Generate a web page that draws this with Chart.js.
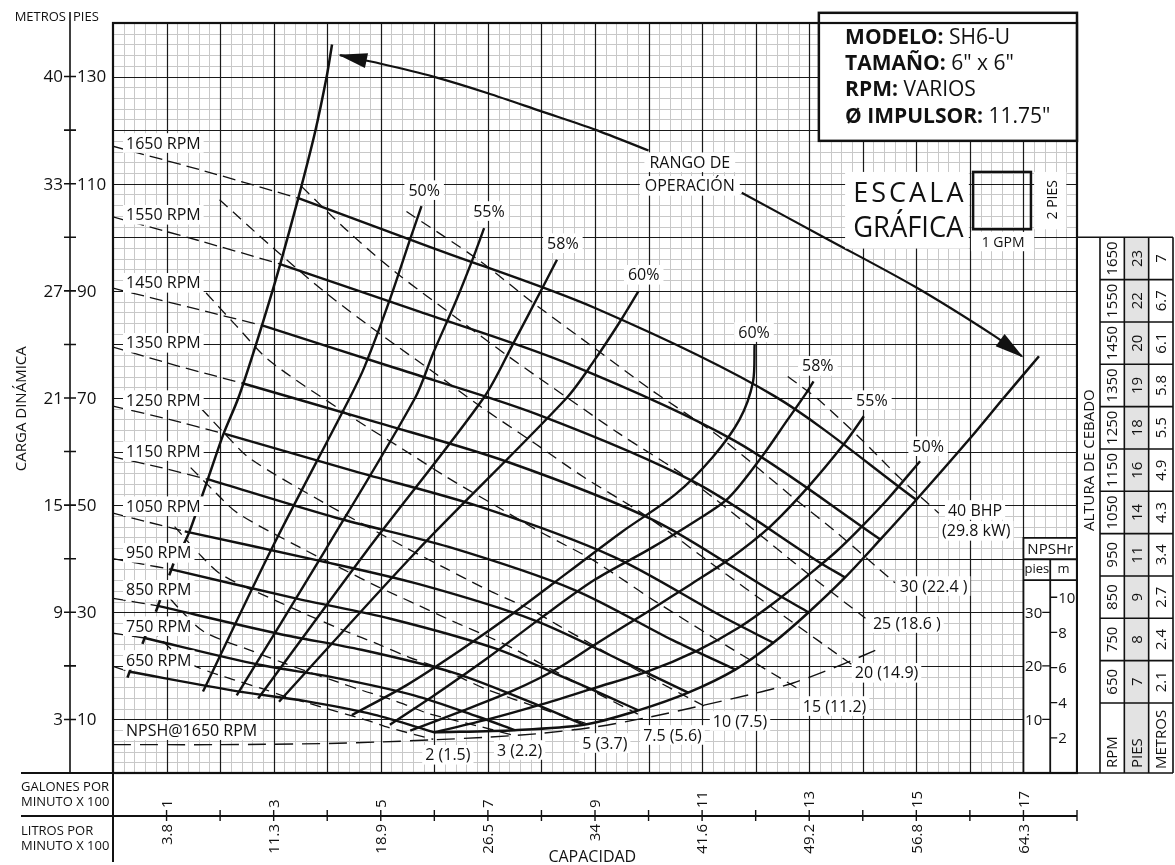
<!DOCTYPE html>
<html>
<head>
<meta charset="utf-8">
<script src="https://cdn.jsdelivr.net/npm/chart.js@4.4.1/dist/chart.umd.min.js"></script>
<style>
  html, body { margin: 0; padding: 0; background: #fff; }
  #wrap { width: 1175px; height: 865px; position: relative; }
</style>
</head>
<body>
<div id="wrap"><canvas id="curve"></canvas></div>
<script>
// capacity in hundreds of GPM (x), total head in feet (y)

// head curves: dashed part at low flow, solid part inside the operating range
const rpm1650Dash = [[0,117],[1.7,112.4],[3.46,107.3]];
const rpm1650 = [[3.46,107.3],[6,97.9],[9,86.8],[12.36,70.3],[15,51]];
const rpm1550Dash = [[0,103.8],[1.6,99.4],[3.12,95.0]];
const rpm1550 = [[3.12,95.0],[5.64,86.4],[8.45,76.6],[11.61,62.0],[14.33,43.6]];
const rpm1450Dash = [[0,90.5],[1.4,87.0],[2.80,83.5]];
const rpm1450 = [[2.80,83.5],[5.27,75.6],[7.91,67.0],[10.86,54.3],[13.18,39.4],[13.67,36.5]];
const rpm1350Dash = [[0,79.5],[1.2,76.0],[2.40,72.8]];
const rpm1350 = [[2.40,72.8],[4.91,65.5],[7.36,58.1],[10.11,47.1],[12.27,34.1],[12.99,30.0]];
const rpm1250Dash = [[0,68.5],[1.05,66.0],[2.09,63.3]];
const rpm1250 = [[2.09,63.3],[4.55,56.2],[6.82,49.8],[9.36,40.3],[11.36,29.3],[12.33,24.3]];
const rpm1150Dash = [[0,59.0],[0.9,57.0],[1.78,54.8]];
const rpm1150 = [[1.78,54.8],[4.18,47.6],[6.27,42.2],[8.61,34.2],[10.45,24.8],[11.62,19.3]];
const rpm1050Dash = [[0,48.5],[0.67,46.8],[1.34,45.1]];
const rpm1050 = [[1.34,45.1],[3.82,39.7],[5.73,35.2],[7.87,28.5],[9.55,20.7],[10.74,15.0]];
const rpm950Dash = [[0,40.0],[0.55,39.0],[1.09,38.0]];
const rpm950 = [[1.09,38.0],[3.45,32.5],[5.18,28.8],[7.12,23.3],[8.64,16.9],[9.81,11.7]];
const rpm850Dash = [[0,32.6],[0.84,31.2]];
const rpm850 = [[0.84,31.2],[3.09,26.0],[4.64,23.0],[6.37,18.7],[7.73,13.5],[8.79,9.0]];
const rpm750Dash = [[0,26.1],[0.59,25.2]];
const rpm750 = [[0.59,25.2],[2.73,20.2],[4.09,17.9],[5.62,14.5],[6.82,10.5],[7.5,8.0]];
const rpm650Dash = [[0,19.9],[0.31,18.9]];
const rpm650 = [[0.31,18.9],[2.36,15.2],[3.55,13.5],[4.87,10.9],[6.0,7.6]];

// short strokes where the low speed curves turn solid
const tick650 = [[0.27,17.8],[0.35,20.0]];
const tick750 = [[0.55,24.1],[0.63,26.3]];
const tick850 = [[0.80,30.1],[0.88,32.3]];
const tick950 = [[1.05,36.9],[1.13,39.1]];

// operating range limits
const leftLimit = [[1.30,42.3],[1.43,45.1],[1.78,55.1],[2.06,63.2],[2.34,70.0],[2.68,80.3],[2.93,88.4],[3.12,94.9],[3.46,107.3],[3.77,119.5],[3.99,130.0],[4.09,136.0]];
const rightLimit = [[6.0,7.6],[7.5,8.0],[8.79,9.0],[9.81,11.7],[10.74,15.0],[11.62,19.3],[12.33,24.3],[12.99,30.0],[13.67,36.5],[14.33,43.6],[15.0,51.0],[15.98,62.2],[16.63,70.0],[17.29,77.8]];

// efficiency curves, left and right branches
const eff50L = [[1.68,15.2],[2.97,42.0],[4.42,70.0],[4.70,75.9],[5.17,88.4],[5.55,99.7],[5.76,105.8]];
const eff55L = [[2.31,14.5],[3.97,41.7],[5.64,70.0],[5.98,78.4],[6.40,88.0],[6.70,95.5],[6.93,101.7]];
const eff58L = [[2.71,13.9],[4.74,41.5],[6.92,70.0],[7.48,80.3],[8.0,90.2],[8.29,95.8]];
const eff60L = [[3.10,13.3],[5.67,41.4],[8.47,70.0],[9.0,77.2],[9.45,84.0],[9.81,89.9]];
const eff60R = [[4.46,10.8],[5.5,16.5],[6.5,23.0],[7.5,30.0],[8.5,37.5],[9.5,45.0],[10.5,52.0],[11.2,59.0],[11.7,66.0],[11.95,73.0],[11.98,80.0]];
const eff58R = [[5.17,9.0],[6.0,14.5],[7.0,21.5],[8.0,29.0],[9.0,36.1],[10.0,41.7],[10.87,47.0],[11.49,51.3],[12.12,59.1],[12.6,66.0],[12.95,71.0],[13.08,73.1]];
const eff55R = [[5.55,7.9],[6.5,11.5],[7.5,15.5],[8.3,19.5],[9.0,24.0],[10.0,30.2],[10.8,35.3],[11.49,39.8],[12.27,46.0],[12.99,53.5],[13.64,61.3],[14.02,66.6]];
const eff50R = [[6.0,7.6],[7.0,10.0],[8.0,12.8],[9.0,15.9],[10.0,19.0],[10.9,22.8],[11.68,27.1],[12.4,32.2],[12.99,37.0],[13.5,41.3],[13.98,46.0],[14.48,51.3],[15.07,58.2]];

// brake horsepower lines
const bhp40 = [[12.6,74.0],[13.16,69.8],[13.96,62.4],[14.7,55.0],[15.42,48.5]];
const bhp30 = [[5.48,104.8],[6.82,95.8],[7.84,87.8],[9.02,79.1],[10.05,71.5],[11.21,63.6],[11.96,57.6],[12.69,51.5],[13.5,45.0],[14.6,35.5]];
const bhp25 = [[3.52,109.5],[4.4,101.0],[5.31,93.2],[6.42,84.9],[7.38,77.8],[8.49,70.0],[9.46,63.3],[10.55,56.3],[11.26,51.0],[11.94,45.6],[13.0,37.0],[14.05,28.9]];
const bhp20 = [[1.99,107.0],[2.99,98.0],[3.99,89.5],[5.05,81.5],[5.96,75.0],[6.85,68.5],[7.88,61.5],[8.78,55.3],[9.80,49.0],[10.45,44.5],[11.08,39.8],[12.5,29.5],[13.8,20.2]];
const bhp15 = [[1.74,89.6],[2.3,83.5],[2.93,76.9],[4.48,66.3],[5.42,60.4],[6.22,55.3],[7.16,49.8],[7.98,45.0],[8.90,40.1],[9.49,36.3],[10.07,32.4],[11.5,23.5],[12.83,15.5]];
const bhp10 = [[1.65,68.0],[2.1,63.2],[2.56,58.7],[3.91,50.6],[4.73,46.1],[5.44,42.2],[6.25,38.0],[6.97,34.3],[7.78,30.6],[8.29,27.7],[8.80,24.8],[10.0,18.0],[11.06,12.4]];
const bhp7p5 = [[1.45,57.0],[1.9,52.5],[2.33,48.5],[3.55,41.8],[4.30,38.0],[4.94,34.8],[5.68,31.4],[6.33,28.4],[7.06,25.2],[7.54,22.9],[7.99,20.4],[8.9,15.6],[9.8,11.0]];
const bhp5 = [[1.15,46.0],[1.6,41.0],[2.03,37.0],[3.10,31.9],[3.75,29.0],[4.31,26.6],[4.96,24.0],[5.53,21.6],[6.17,19.3],[6.58,17.4],[6.98,15.6],[8.0,12.0],[8.85,9.2]];
const bhp3 = [[0.85,35.0],[1.3,30.0],[1.71,26.3],[2.62,22.7],[3.17,20.6],[3.64,18.9],[4.19,17.0],[4.66,15.4],[5.20,13.7],[5.55,12.4],[5.89,11.1],[6.8,8.8],[7.5,7.0]];
const bhp2 = [[0.7,27.0],[1.1,23.0],[1.50,20.1],[2.29,17.3],[2.77,15.8],[3.18,14.4],[3.66,13.0],[4.07,11.8],[4.55,10.4],[4.85,9.5],[5.14,8.5],[5.98,6.3]];

// NPSH required at 1650 rpm
const npsh1650 = [[0,5.3],[2,5.3],[4,5.5],[5,5.8],[6,6.2],[7,6.7],[8,7.4],[9,8.6],[10,10.4],[11,12.6],[12,14.9],[12.7,16.8],[13.5,19.8],[14.26,23.0]];

// "rango de operacion" arrows
const arrowUpper = [[10.0,116.2],[9.0,120.1],[8.0,123.5],[7.0,126.9],[5.98,130.0],[5.0,132.4],[4.24,134.0]];
const arrowLower = [[11.74,108.3],[13.35,99.6],[14.97,90.8],[16.47,81.5],[16.97,77.8]];

// labels
const rpmLabelText = ['1650 RPM','1550 RPM','1450 RPM','1350 RPM','1250 RPM','1150 RPM','1050 RPM','950 RPM','850 RPM','750 RPM','650 RPM','NPSH@1650 RPM'];
const rpmLabelH = [117.6,104.2,91.5,80.3,69.6,60.1,49.8,41.1,34.2,27.4,21.1,8.0];
const effLabelText = ['50%','55%','58%','60%','60%','58%','55%','50%'];
const effLabelQ = [5.81,7.02,8.40,9.91,11.97,13.16,14.17,15.22];
const effLabelH = [108.8,104.9,98.9,93.0,82.3,76.0,69.6,61.0];
const bhpLabelText = ['40 BHP','(29.8 kW)','30 (22.4 )','25 (18.6 )','20 (14.9)','15 (11.2)','10 (7.5)','7.5 (5.6)','5 (3.7)','3 (2.2)','2 (1.5)'];
const bhpLabelQ = [15.59,15.48,14.69,14.19,13.85,12.88,11.20,9.90,8.76,7.17,5.83];
const bhpLabelH = [49.1,45.2,34.9,28.0,18.7,12.5,9.7,7.1,5.6,4.3,3.4];

// axis tick labels
const gpmTicks = [1,3,5,7,9,11,13,15,17];
const lpmLabels = ['3.8','11.3','18.9','26.5','34','41.6','49.2','56.8','64.3'];
const piesTicks = [10,30,50,70,90,110,130];
const metrosLabels = ['3','9','15','21','27','33','40'];
const npshPiesTicks = [10,20,30];
const npshMetrosTicks = [2,4,6,8,10];

// priming height table
const tableRpm = ['1650','1550','1450','1350','1250','1150','1050','950','850','750','650'];
const tablePies = ['23','22','20','19','18','16','14','11','9','8','7'];
const tableMetros = ['7','6.7','6.1','5.8','5.5','4.9','4.3','3.4','2.7','2.4','2.1'];

const INK = '#111';
const FONT = "'Open Sans', 'Noto Sans', 'DejaVu Sans', sans-serif";

function curve(pts, width, dash, tension) {
  return {
    data: pts.map(p => ({ x: p[0], y: p[1] })),
    showLine: true,
    fill: false,
    borderColor: INK,
    borderWidth: width,
    borderDash: dash || [],
    borderCapStyle: 'butt',
    pointRadius: 0,
    pointHoverRadius: 0,
    tension: tension === undefined ? 0.3 : tension
  };
}

const datasets = [];
[rpm1650Dash, rpm1550Dash, rpm1450Dash, rpm1350Dash, rpm1250Dash, rpm1150Dash,
 rpm1050Dash, rpm950Dash, rpm850Dash, rpm750Dash, rpm650Dash]
  .forEach(p => datasets.push(curve(p, 1.3, [13, 6], 0.2)));
[bhp40, bhp30, bhp25, bhp20, bhp15, bhp10, bhp7p5, bhp5, bhp3, bhp2]
  .forEach(p => datasets.push(curve(p, 1.3, [11, 7], 0.3)));
datasets.push(curve(npsh1650, 1.4, [18, 9], 0.3));
[rpm1650, rpm1550, rpm1450, rpm1350, rpm1250, rpm1150, rpm1050, rpm950, rpm850, rpm750, rpm650]
  .forEach(p => datasets.push(curve(p, 2.4, null, 0.3)));
[tick650, tick750, tick850, tick950].forEach(p => datasets.push(curve(p, 2.6, null, 0)));
[leftLimit, rightLimit].forEach(p => datasets.push(curve(p, 2.5, null, 0.3)));
[eff50L, eff55L, eff58L, eff60L, eff60R, eff58R, eff55R, eff50R]
  .forEach(p => datasets.push(curve(p, 2.4, null, 0.3)));
[arrowUpper, arrowLower].forEach(p => datasets.push(curve(p, 2.2, null, 0.3)));

function boxed(ctx, text, x, y, align, size, pad) {
  ctx.font = size + 'px ' + FONT;
  const w = ctx.measureText(text).width;
  const h = size * 1.1;
  const p = pad === undefined ? 4 : pad;
  const left = align === 'left' ? x : align === 'right' ? x - w : x - w / 2;
  ctx.fillStyle = '#fff';
  ctx.fillRect(left - p, y - h / 2 - 1, w + 2 * p, h + 2);
  ctx.fillStyle = INK;
  ctx.textAlign = align;
  ctx.textBaseline = 'middle';
  ctx.fillText(text, x, y + 1);
}

function vtext(ctx, text, x, y, size, align) {
  ctx.save();
  ctx.translate(x, y);
  ctx.rotate(-Math.PI / 2);
  ctx.font = size + 'px ' + FONT;
  ctx.textAlign = align || 'center';
  ctx.textBaseline = 'middle';
  ctx.fillText(text, 0, 1);
  ctx.restore();
}

function arrowHead(ctx, X, Y, pts) {
  const n = pts.length;
  const tx = X(pts[n - 1][0]), ty = Y(pts[n - 1][1]);
  const bx = X(pts[n - 2][0]), by = Y(pts[n - 2][1]);
  const ang = Math.atan2(ty - by, tx - bx);
  const len = 27, half = 7.5;
  const c = Math.cos(ang), s = Math.sin(ang);
  ctx.beginPath();
  ctx.moveTo(tx + 2 * c, ty + 2 * s);
  ctx.lineTo(tx - len * c + half * s, ty - len * s - half * c);
  ctx.lineTo(tx - len * c - half * s, ty - len * s + half * c);
  ctx.closePath();
  ctx.fill();
}

const gridPaper = {
  id: 'gridPaper',
  beforeDatasetsDraw(chart) {
    const { ctx, chartArea: a, scales } = chart;
    const X = v => scales.x.getPixelForValue(v);
    const Y = v => scales.y.getPixelForValue(v);
    ctx.save();
    ctx.fillStyle = '#fff';
    ctx.fillRect(a.left, a.top, a.width, a.height);
    ctx.strokeStyle = '#c8c8c8';
    ctx.lineWidth = 1;
    ctx.beginPath();
    for (let i = 1; i < 90; i++) {
      if (i % 5 === 0) continue;
      const px = Math.round(X(i / 5)) + 0.5;
      ctx.moveTo(px, a.top); ctx.lineTo(px, a.bottom);
    }
    for (let i = 1; i < 70; i++) {
      if (i % 5 === 0) continue;
      const py = Math.round(Y(i * 2)) + 0.5;
      ctx.moveTo(a.left, py); ctx.lineTo(a.right, py);
    }
    ctx.stroke();
    ctx.strokeStyle = '#1a1a1a';
    ctx.lineWidth = 1.2;
    ctx.beginPath();
    for (let g = 1; g < 18; g++) {
      const px = Math.round(X(g)) + 0.5;
      ctx.moveTo(px, a.top); ctx.lineTo(px, a.bottom);
    }
    for (let h = 10; h < 140; h += 10) {
      const py = Math.round(Y(h)) + 0.5;
      ctx.moveTo(a.left, py); ctx.lineTo(a.right, py);
    }
    ctx.stroke();
    ctx.restore();
  }
};

const annotate = {
  id: 'annotate',
  afterDatasetsDraw(chart) {
    const { ctx, chartArea: a, scales } = chart;
    const X = v => scales.x.getPixelForValue(v);
    const Y = v => scales.y.getPixelForValue(v);
    ctx.save();
    ctx.fillStyle = INK;
    ctx.strokeStyle = INK;

    arrowHead(ctx, X, Y, arrowUpper);
    arrowHead(ctx, X, Y, arrowLower);

    // curve labels
    rpmLabelText.forEach((t, i) => boxed(ctx, t, a.left + 13, Y(rpmLabelH[i]), 'left', 16, 3));
    effLabelText.forEach((t, i) => boxed(ctx, t, X(effLabelQ[i]), Y(effLabelH[i]), 'center', 16));
    bhpLabelText.forEach((t, i) => boxed(ctx, t, X(bhpLabelQ[i]), Y(bhpLabelH[i]), 'left', 16, 3));
    boxed(ctx, 'RANGO DE', X(10.77), Y(114.0), 'center', 16, 5);
    boxed(ctx, 'OPERACIÓN', X(10.77), Y(109.6), 'center', 16, 5);

    // model box
    const bx0 = X(13.18), bx1 = X(18), by0 = Y(141.9), by1 = Y(118);
    ctx.fillStyle = '#fff';
    ctx.fillRect(bx0, by0, bx1 - bx0, by1 - by0);
    ctx.lineWidth = 2.5;
    ctx.strokeRect(bx0, by0, bx1 - bx0, by1 - by0);
    const info = [['MODELO:', ' SH6-U'], ['TAMAÑO:', ' 6" x 6"'], ['RPM:', ' VARIOS'], ['Ø IMPULSOR:', ' 11.75"']];
    const infoH = [137.2, 132.4, 127.4, 122.5];
    ctx.textAlign = 'left';
    ctx.textBaseline = 'middle';
    info.forEach((pair, i) => {
      const tx = X(13.67), ty = Y(infoH[i]);
      ctx.fillStyle = INK;
      ctx.font = 'bold 21px ' + FONT;
      ctx.fillText(pair[0], tx, ty);
      const w = ctx.measureText(pair[0]).width;
      ctx.font = '21px ' + FONT;
      ctx.fillText(pair[1], tx + w, ty);
    });

    // graphic scale
    ctx.fillStyle = '#fff';
    ctx.fillRect(X(13.67), Y(112.2), X(15.98) - X(13.67), Y(97.9) - Y(112.2));
    ctx.fillRect(X(16.02), Y(101.0), X(17.2) - X(16.02), Y(97.4) - Y(101.0));
    ctx.fillRect(X(17.2), Y(112.2), X(17.8) - X(17.2), Y(101.5) - Y(112.2));
    const sq0 = X(16.06), sq1 = X(17.14), sqT = Y(112.2), sqB = Y(101.5);
    ctx.lineWidth = 2.5;
    ctx.strokeRect(sq0, sqT, sq1 - sq0, sqB - sqT);
    ctx.fillStyle = INK;
    ctx.font = '27px ' + FONT;
    const word = 'ESCALA';
    const left = X(13.82), right = X(15.88);
    let sum = 0;
    for (const ch of word) sum += ctx.measureText(ch).width;
    const gap = (right - left - sum) / (word.length - 1);
    let cx = left;
    ctx.textAlign = 'left';
    ctx.textBaseline = 'middle';
    for (const ch of word) { ctx.fillText(ch, cx, Y(108.0)); cx += ctx.measureText(ch).width + gap; }
    ctx.font = '29px ' + FONT;
    ctx.fillText('GRÁFICA', left, Y(101.6), right - left);
    ctx.font = '14px ' + FONT;
    ctx.textAlign = 'center';
    ctx.fillText('1 GPM', X(16.62), Y(98.9));
    vtext(ctx, '2 PIES', X(17.53), Y(107.0), 14);

    // NPSHr scale box
    const nL = X(17), nR = X(18), nM = X(17.5), nT = Y(43.9), nH = Y(39.9), nS = Y(36.0);
    ctx.fillStyle = '#fff';
    ctx.fillRect(nL, nT, nR - nL, a.bottom - nT);
    ctx.lineWidth = 1.8;
    ctx.strokeStyle = INK;
    ctx.beginPath();
    ctx.moveTo(nL, a.bottom); ctx.lineTo(nL, nT); ctx.lineTo(nR, nT);
    ctx.moveTo(nL, nH); ctx.lineTo(nR, nH);
    ctx.moveTo(nL, nS); ctx.lineTo(nR, nS);
    ctx.moveTo(nM, nH); ctx.lineTo(nM, a.bottom);
    ctx.stroke();
    ctx.fillStyle = INK;
    ctx.font = '15px ' + FONT;
    ctx.textAlign = 'center';
    ctx.fillText('NPSHr', (nL + nR) / 2, (nT + nH) / 2 + 1);
    ctx.font = '13px ' + FONT;
    ctx.fillText('pies', (nL + nM) / 2, (nH + nS) / 2);
    ctx.fillText('m', (nM + nR) / 2, (nH + nS) / 2);
    ctx.lineWidth = 1.3;
    ctx.font = '15px ' + FONT;
    ctx.beginPath();
    npshPiesTicks.forEach(v => {
      const py = Y(v);
      ctx.moveTo(nM - 8, py); ctx.lineTo(nM, py);
    });
    npshMetrosTicks.forEach(v => {
      const py = Y(v * 3.2808);
      ctx.moveTo(nM, py); ctx.lineTo(nM + 7, py);
    });
    ctx.stroke();
    ctx.textAlign = 'right';
    npshPiesTicks.forEach(v => ctx.fillText(String(v), nM - 8, Y(v) + 1));
    ctx.textAlign = 'left';
    npshMetrosTicks.forEach(v => ctx.fillText(String(v), nM + 8, Y(v * 3.2808) + 1));

    // plot frame
    ctx.lineWidth = 2.2;
    ctx.strokeRect(a.left, a.top, a.width, a.height);

    // priming height table
    const tTop = Y(100), tHead = Y(13.07), tL = a.right + 23, tR = a.right + 96;
    const cw = (tR - tL) / 3;
    const rh = (tHead - tTop) / tableRpm.length;
    ctx.fillStyle = '#fff';
    ctx.fillRect(a.right + 1, tTop, tR - a.right, a.bottom - tTop);
    ctx.fillStyle = '#e3e3e3';
    ctx.fillRect(tL + cw, tTop, cw, a.bottom - tTop);
    ctx.lineWidth = 1.6;
    ctx.beginPath();
    ctx.moveTo(a.right, tTop); ctx.lineTo(tR, tTop);
    ctx.moveTo(a.right, a.bottom); ctx.lineTo(tR, a.bottom);
    ctx.moveTo(tL, tTop); ctx.lineTo(tL, a.bottom);
    ctx.moveTo(tL + cw, tTop); ctx.lineTo(tL + cw, a.bottom);
    ctx.moveTo(tL + 2 * cw, tTop); ctx.lineTo(tL + 2 * cw, a.bottom);
    ctx.moveTo(tR, tTop); ctx.lineTo(tR, a.bottom);
    for (let i = 1; i <= tableRpm.length; i++) {
      ctx.moveTo(tL, tTop + i * rh); ctx.lineTo(tR, tTop + i * rh);
    }
    ctx.stroke();
    ctx.fillStyle = INK;
    tableRpm.forEach((t, i) => {
      const cy = tTop + (i + 0.5) * rh;
      vtext(ctx, t, tL + cw * 0.5, cy, 15);
      vtext(ctx, tablePies[i], tL + cw * 1.5, cy, 15);
      vtext(ctx, tableMetros[i], tL + cw * 2.5, cy, 15);
    });
    vtext(ctx, 'RPM', tL + cw * 0.5, a.bottom - 5, 15, 'left');
    vtext(ctx, 'PIES', tL + cw * 1.5, a.bottom - 5, 15, 'left');
    vtext(ctx, 'METROS', tL + cw * 2.5, a.bottom - 4, 15, 'left');
    vtext(ctx, 'ALTURA DE CEBADO', a.right + 11.5, Y(58.4), 15);

    // head axis (metres | feet)
    const axX = a.left - 43;
    ctx.lineWidth = 1.6;
    ctx.beginPath();
    ctx.moveTo(axX, a.top - 11); ctx.lineTo(axX, a.bottom);
    for (let h = 10; h <= 130; h += 10) {
      ctx.moveTo(axX - 6, Y(h)); ctx.lineTo(axX + 6, Y(h));
    }
    ctx.stroke();
    ctx.font = '17px ' + FONT;
    ctx.textBaseline = 'middle';
    piesTicks.forEach((v, i) => {
      ctx.textAlign = 'left';
      ctx.fillText(String(v), axX + 7, Y(v) + 1);
      ctx.textAlign = 'right';
      ctx.fillText(metrosLabels[i], axX - 7, Y(v) + 1);
    });
    ctx.font = '13px ' + FONT;
    ctx.textAlign = 'right';
    ctx.fillText('METROS', axX - 4, a.top - 6);
    ctx.textAlign = 'left';
    ctx.fillText('PIES', axX + 3, a.top - 6);
    vtext(ctx, 'CARGA DINÁMICA', a.left - 92, Y(68), 15);

    // capacity axis (gpm | lpm)
    const yG = a.bottom, yA = a.bottom + 43;
    ctx.lineWidth = 2;
    ctx.beginPath();
    ctx.moveTo(a.left - 92, yG); ctx.lineTo(a.left, yG);
    ctx.moveTo(a.left - 92, yA); ctx.lineTo(X(18), yA);
    ctx.moveTo(a.left, a.bottom); ctx.lineTo(a.left, a.bottom + 89);
    ctx.stroke();
    ctx.lineWidth = 1.4;
    ctx.beginPath();
    for (let g = 1; g <= 18; g++) {
      ctx.moveTo(X(g), yA - 6); ctx.lineTo(X(g), yA + 5);
    }
    ctx.stroke();
    gpmTicks.forEach((g, i) => {
      vtext(ctx, String(g), X(g), yA - 8, 15, 'left');
      vtext(ctx, lpmLabels[i], X(g), yA + 8, 15, 'right');
    });
    ctx.font = '13px ' + FONT;
    ctx.textAlign = 'left';
    ctx.fillText('GALONES POR', a.left - 92, yG + 14);
    ctx.fillText('MINUTO X 100', a.left - 92, yG + 29);
    ctx.fillText('LITROS POR', a.left - 92, yG + 58);
    ctx.fillText('MINUTO X 100', a.left - 92, yG + 73);
    ctx.font = '16px ' + FONT;
    ctx.textAlign = 'center';
    ctx.fillText('CAPACIDAD', X(8.95), a.bottom + 84);

    ctx.restore();
  }
};

new Chart(document.getElementById('curve'), {
  type: 'scatter',
  data: { datasets: datasets },
  options: {
    responsive: true,
    maintainAspectRatio: false,
    animation: false,
    events: [],
    layout: { padding: { left: 113, right: 98, top: 23, bottom: 92 } },
    scales: {
      x: { type: 'linear', min: 0, max: 18, display: false },
      y: { type: 'linear', min: 0, max: 140, display: false }
    },
    plugins: { legend: { display: false }, tooltip: { enabled: false } }
  },
  plugins: [gridPaper, annotate]
});
</script>
</body>
</html>
